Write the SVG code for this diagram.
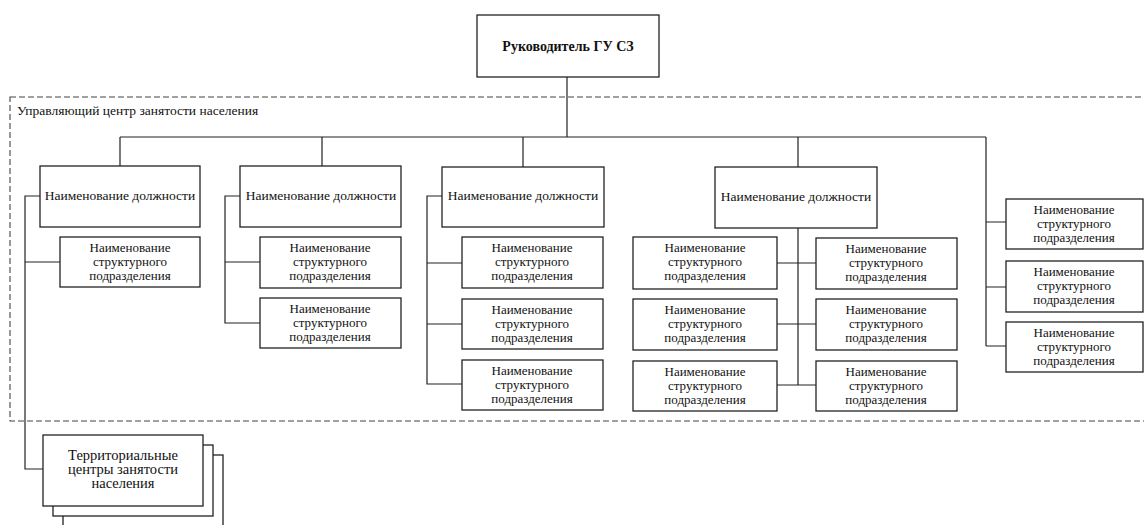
<svg xmlns="http://www.w3.org/2000/svg" width="1144" height="525" viewBox="0 0 1144 525" font-family="'Liberation Serif', 'DejaVu Serif', 'Times New Roman', serif">
<style>
.b{fill:#fff;stroke:#222;stroke-width:1.3}
text{font-family:'Liberation Serif','DejaVu Serif','Times New Roman',serif;fill:#111}
.t{font-size:13px;text-anchor:middle}
.p{font-size:13.5px}
.c{fill:none;stroke:#222;stroke-width:1.2}
.d{fill:none;stroke:#444;stroke-width:1.1;stroke-dasharray:6 3}
</style>
<rect x="0" y="0" width="1144" height="525" fill="#fff"/>
<rect class="d" x="10" y="97" width="1150" height="324"/>
<text x="17" y="115" style="font-size:13.5px">Управляющий центр занятости населения</text>
<g id="connectors">
<path class="c" d="M567 77V137M120 137H986M120 137V166M322 137V166M523 137V167M798 137V167M986 137V346"/>
<path class="c" d="M40 196H25V469H43M25 262H60"/>
<path class="c" d="M240 196H225V323H260M225 262H260"/>
<path class="c" d="M442 196H427V384H462M427 263H462M427 324H462"/>
<path class="c" d="M798 228V385M777 263H816M777 324H816M777 385H816"/>
<path class="c" d="M986 222H1006M986 287H1006M986 346H1006"/>
</g>
<g id="head"><rect class="b" x="477" y="15" width="182" height="62"/><text class="t" x="568" y="51" style="font-weight:bold;font-size:14px">Руководитель ГУ СЗ</text></g>
<g id="pos1"><rect class="b" x="40" y="166" width="160" height="61"/><text class="t p" x="120" y="200">Наименование должности</text></g>
<g id="pos2"><rect class="b" x="240" y="166" width="161" height="61"/><text class="t p" x="321" y="200">Наименование должности</text></g>
<g id="pos3"><rect class="b" x="442" y="167" width="162" height="60"/><text class="t p" x="523" y="200">Наименование должности</text></g>
<g id="pos4"><rect class="b" x="715" y="167" width="162" height="61"/><text class="t p" x="796" y="201">Наименование должности</text></g>
<g id="u1"><rect class="b" x="60" y="237" width="140" height="50"/><text class="t" x="130" y="252">Наименование<tspan x="130" dy="14">структурного</tspan><tspan x="130" dy="14">подразделения</tspan></text></g>
<g id="u2"><rect class="b" x="260" y="237" width="141" height="51"/><text class="t" x="330" y="252">Наименование<tspan x="330" dy="14">структурного</tspan><tspan x="330" dy="14">подразделения</tspan></text></g>
<g id="u3"><rect class="b" x="260" y="298" width="141" height="50"/><text class="t" x="330" y="313">Наименование<tspan x="330" dy="14">структурного</tspan><tspan x="330" dy="14">подразделения</tspan></text></g>
<g id="u4"><rect class="b" x="462" y="237" width="141" height="51"/><text class="t" x="532" y="252">Наименование<tspan x="532" dy="14">структурного</tspan><tspan x="532" dy="14">подразделения</tspan></text></g>
<g id="u5"><rect class="b" x="462" y="299" width="141" height="50"/><text class="t" x="532" y="314">Наименование<tspan x="532" dy="14">структурного</tspan><tspan x="532" dy="14">подразделения</tspan></text></g>
<g id="u6"><rect class="b" x="462" y="360" width="141" height="50"/><text class="t" x="532" y="375">Наименование<tspan x="532" dy="14">структурного</tspan><tspan x="532" dy="14">подразделения</tspan></text></g>
<g id="u7"><rect class="b" x="633" y="237" width="144" height="52"/><text class="t" x="705" y="252">Наименование<tspan x="705" dy="14">структурного</tspan><tspan x="705" dy="14">подразделения</tspan></text></g>
<g id="u8"><rect class="b" x="633" y="299" width="144" height="51"/><text class="t" x="705" y="314">Наименование<tspan x="705" dy="14">структурного</tspan><tspan x="705" dy="14">подразделения</tspan></text></g>
<g id="u9"><rect class="b" x="633" y="361" width="144" height="50"/><text class="t" x="705" y="376">Наименование<tspan x="705" dy="14">структурного</tspan><tspan x="705" dy="14">подразделения</tspan></text></g>
<g id="u10"><rect class="b" x="816" y="238" width="141" height="51"/><text class="t" x="886" y="253">Наименование<tspan x="886" dy="14">структурного</tspan><tspan x="886" dy="14">подразделения</tspan></text></g>
<g id="u11"><rect class="b" x="816" y="299" width="141" height="51"/><text class="t" x="886" y="314">Наименование<tspan x="886" dy="14">структурного</tspan><tspan x="886" dy="14">подразделения</tspan></text></g>
<g id="u12"><rect class="b" x="816" y="361" width="141" height="50"/><text class="t" x="886" y="376">Наименование<tspan x="886" dy="14">структурного</tspan><tspan x="886" dy="14">подразделения</tspan></text></g>
<g id="u13"><rect class="b" x="1006" y="199" width="137" height="50"/><text class="t" x="1074" y="214">Наименование<tspan x="1074" dy="14">структурного</tspan><tspan x="1074" dy="14">подразделения</tspan></text></g>
<g id="u14"><rect class="b" x="1006" y="261" width="137" height="51"/><text class="t" x="1074" y="276">Наименование<tspan x="1074" dy="14">структурного</tspan><tspan x="1074" dy="14">подразделения</tspan></text></g>
<g id="u15"><rect class="b" x="1006" y="322" width="137" height="50"/><text class="t" x="1074" y="337">Наименование<tspan x="1074" dy="14">структурного</tspan><tspan x="1074" dy="14">подразделения</tspan></text></g>
<g id="territorial">
<rect class="b" x="63" y="455" width="160" height="80"/>
<rect class="b" x="53" y="445" width="160" height="71"/>
<rect class="b" x="43" y="435" width="160" height="71"/>
<text class="t" x="123" y="460" style="font-size:14.5px">Территориальные<tspan x="123" dy="14">центры занятости</tspan><tspan x="123" dy="14">населения</tspan></text>
</g>
</svg>
